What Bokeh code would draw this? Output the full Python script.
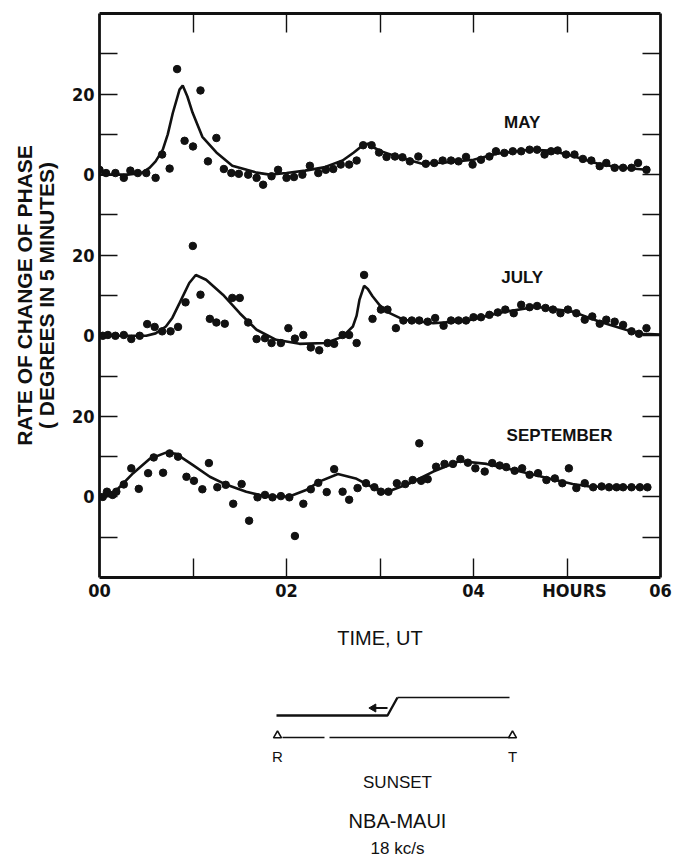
from bokeh.plotting import figure
from bokeh.models import Range1d, FixedTicker, LinearAxis
from bokeh.layouts import column
from bokeh.core.properties import value
from bokeh.embed import file_html
from bokeh.resources import INLINE

# ---------------- data (hours UT, degrees per 5 minutes) ----------------
may_dot_h = [0.0, 0.07, 0.17, 0.26, 0.33, 0.41, 0.5, 0.6, 0.67, 0.75, 0.83, 0.91, 1.0, 1.08,
             1.16, 1.25, 1.33, 1.41, 1.49, 1.59, 1.68, 1.75, 1.84, 1.91, 2.0, 2.08, 2.17, 2.25,
             2.34, 2.42, 2.50, 2.58, 2.67, 2.75, 2.82, 2.91, 2.99, 3.07, 3.16, 3.24, 3.32, 3.41,
             3.49, 3.58, 3.67, 3.76, 3.84, 3.92, 3.99, 4.08, 4.17, 4.24, 4.33, 4.42, 4.51, 4.60,
             4.68, 4.76, 4.83, 4.90, 4.99, 5.08, 5.17, 5.26, 5.35, 5.42, 5.51, 5.60, 5.69, 5.76, 5.85]
may_dot_v = [1.2, 0.4, 0.4, -0.8, 1.0, 0.4, 0.4, -0.8, 5.0, 1.5, 26.2, 8.4, 7.0, 20.9,
             3.3, 9.1, 1.4, 0.4, 0.2, 0.0, -0.8, -2.5, -0.4, 1.2, -0.8, -0.6, 0.0, 2.2,
             0.4, 1.2, 1.4, 2.5, 2.5, 3.5, 7.3, 7.3, 5.5, 4.4, 4.5, 4.3, 3.3, 4.5,
             2.7, 2.9, 3.5, 3.5, 3.3, 4.4, 2.5, 3.7, 4.5, 5.8, 5.4, 5.8, 5.8, 6.2,
             6.2, 5.0, 5.8, 6.0, 5.0, 5.0, 3.9, 3.5, 2.1, 2.9, 1.7, 1.7, 1.7, 2.9, 1.2]
may_fit_h = [0.0, 0.3, 0.45, 0.535, 0.6, 0.677, 0.73, 0.784, 0.856, 0.89, 0.94, 0.995, 1.1,
             1.25, 1.42, 1.68, 1.82, 2.0, 2.2, 2.4, 2.6, 2.72, 2.81, 2.87, 2.93, 3.0, 3.2,
             3.45, 3.7, 4.0, 4.25, 4.6, 4.85, 5.06, 5.35, 5.6, 5.85]
may_fit_v = [0.0, 0.0, 0.4, 1.7, 3.3, 6.2, 10.0, 15.3, 21.1, 22.1, 19.4, 15.4, 9.4,
             5.5, 2.2, 0.5, 0.0, 0.4, 1.0, 1.8, 3.5, 5.5, 7.2, 7.7, 6.8, 5.9, 4.3,
             2.7, 3.0, 3.7, 5.2, 6.2, 5.9, 4.6, 2.6, 1.7, 1.2]

jul_dot_h = [0.035, 0.09, 0.17, 0.26, 0.34, 0.43, 0.51, 0.59, 0.67, 0.76, 0.84, 0.92, 0.998,
             1.08, 1.18, 1.25, 1.34, 1.42, 1.50, 1.59, 1.68, 1.77, 1.84, 1.94, 2.02, 2.09, 2.18,
             2.26, 2.35, 2.44, 2.51, 2.60, 2.67, 2.75, 2.83, 2.92, 3.01, 3.08, 3.17, 3.25, 3.34,
             3.42, 3.51, 3.59, 3.68, 3.76, 3.84, 3.92, 4.0, 4.08, 4.17, 4.26, 4.34, 4.43, 4.51,
             4.60, 4.68, 4.77, 4.85, 4.93, 5.01, 5.10, 5.19, 5.27, 5.35, 5.42, 5.51, 5.60, 5.69,
             5.77, 5.85]
jul_dot_v = [0.0, 0.2, 0.0, 0.2, -0.8, 0.0, 2.9, 2.2, 1.1, 1.1, 2.2, 8.3, 22.3,
             10.2, 4.2, 3.3, 3.0, 9.4, 9.4, 3.3, -0.8, -0.6, -1.8, -1.8, 1.9, -0.7, 0.2,
             -2.9, -3.6, -1.8, -2.0, 0.2, 0.2, -1.8, 15.1, 4.2, 6.5, 6.5, 1.9, 3.8, 3.8,
             3.8, 3.5, 4.4, 2.5, 3.8, 3.8, 3.8, 4.6, 4.6, 5.2, 5.8, 6.5, 5.6, 7.7,
             7.1, 7.4, 6.9, 6.5, 5.6, 6.5, 5.6, 4.0, 4.8, 3.0, 4.0, 3.5, 2.7, 1.1,
             0.5, 1.9]
jul_fit_h = [0.0, 0.5, 0.6, 0.71, 0.78, 0.856, 0.96, 1.03, 1.14, 1.32, 1.5, 1.68, 1.89, 2.14,
             2.42, 2.6, 2.71, 2.75, 2.78, 2.83, 2.87, 2.92, 3.0, 3.07, 3.25, 3.57, 3.92, 4.3,
             4.67, 5.06, 5.35, 5.63, 5.81, 6.0]
jul_fit_v = [0.0, 0.0, 0.6, 2.3, 4.5, 8.1, 13.1, 15.1, 13.9, 10.2, 5.6, 1.5, -1.0, -2.0,
             -1.8, -0.2, 2.3, 5.0, 8.9, 12.4, 11.6, 9.8, 7.5, 6.0, 4.0, 3.1, 3.7, 5.8,
             7.2, 6.0, 3.5, 1.5, 0.5, 0.3]

sep_dot_h = [0.035, 0.08, 0.14, 0.18, 0.26, 0.34, 0.42, 0.52, 0.58, 0.68, 0.75, 0.84, 0.93,
             1.01, 1.10, 1.17, 1.26, 1.35, 1.43, 1.52, 1.60, 1.69, 1.77, 1.85, 1.94, 2.03, 2.09,
             2.18, 2.26, 2.34, 2.43, 2.51, 2.60, 2.67, 2.76, 2.85, 2.94, 3.01, 3.09, 3.18, 3.27,
             3.35, 3.42, 3.44, 3.51, 3.60, 3.69, 3.78, 3.86, 3.94, 4.02, 4.12, 4.20, 4.28, 4.35,
             4.44, 4.52, 4.60, 4.69, 4.78, 4.87, 4.95, 5.02, 5.10, 5.19, 5.28, 5.37, 5.45, 5.53,
             5.60, 5.69, 5.78, 5.86]
sep_dot_v = [0.0, 1.3, 0.5, 1.3, 3.1, 7.1, 2.0, 5.9, 9.8, 6.0, 10.8, 10.0, 5.0,
             4.0, 1.9, 8.4, 2.4, 3.0, -1.7, 3.2, -5.9, -0.1, 0.5, -0.1, 0.2, -0.1, -9.7,
             -1.7, 1.9, 3.5, 1.2, 6.9, 1.3, -0.7, 2.2, 3.4, 2.4, 1.3, 1.3, 3.4, 3.2,
             4.2, 13.3, 4.0, 4.4, 7.5, 8.2, 8.2, 9.4, 8.5, 7.1, 6.3, 8.4, 7.8, 7.4,
             6.5, 7.1, 5.5, 5.9, 4.2, 4.6, 3.4, 7.1, 2.2, 3.4, 2.4, 2.6, 2.4, 2.4,
             2.4, 2.4, 2.4, 2.4]
sep_fit_h = [0.0, 0.12, 0.18, 0.36, 0.535, 0.71, 0.82, 1.0, 1.18, 1.36, 1.57, 1.78, 2.03,
             2.21, 2.35, 2.55, 2.74, 2.92, 3.06, 3.32, 3.57, 3.85, 4.14, 4.5, 4.81, 5.06,
             5.24, 5.6, 5.88]
sep_fit_v = [0.0, 0.3, 1.6, 5.9, 9.4, 11.0, 10.7, 7.9, 5.0, 3.0, 1.3, 0.1, 0.1,
             1.7, 3.8, 5.7, 4.6, 2.4, 1.1, 3.4, 6.3, 8.9, 8.2, 6.3, 4.6, 3.2,
             2.6, 2.4, 2.4]

months = ["MAY", "JULY", "SEPTEMBER"]
month_offsets = [80, 40, 0]          # vertical stacking of the three curves
month_label_h = [4.52, 4.52, 4.92]
month_label_v = [12.9, 14.4, 15.2]

# x axis: tick marks every hour, labels at even hours plus the unit word
x_tick_marks = [1, 2, 3, 4, 5]
x_label_pos = [0, 2, 4, 5.08, 6]
x_label_text = {0: "00", 2: "02", 4: "04", 5.08: "HOURS", 6: "06"}
# y axis (stacked): labels every 20, tick marks every 10
y_label_pos = [0, 20, 40, 60, 80, 100]
y_label_text = {0: "0", 20: "20", 40: "0", 60: "20", 80: "0", 100: "20"}
y_tick_marks = [-10, 10, 30, 50, 70, 90, 110]
y_all_marks = [-10, 0, 10, 20, 30, 40, 50, 60, 70, 80, 90, 100, 110]

# schematic of the path (page-pixel coordinates of the sketch)
path_x = [277, 388, 398, 510]
path_y = [715, 715, 697, 697]
arrow_x = [388, 374]
arrow_y = [707.5, 707.5]
base_seg_x0 = [283, 330]
base_seg_x1 = [325, 510]
base_y = 737
station_x = [278, 513]
station_labels = ["R", "T"]
sketch_text = ["SUNSET", "NBA-MAUI", "18 kc/s"]
sketch_text_y = [782, 820, 848]

INK = "#111111"
COND = "DejaVu Sans Condensed"
SANS = "Liberation Sans"

# ---------------- main plot ----------------
p = figure(width=682, height=660, x_range=Range1d(0, 6), y_range=Range1d(-20, 120),
           output_backend="svg", toolbar_location=None,
           min_border_left=99, min_border_right=22, min_border_top=13, min_border_bottom=83)
p.background_fill_color = "white"
p.border_fill_color = "white"
p.outline_line_color = None
p.xgrid.visible = False
p.ygrid.visible = False

series = [(may_dot_h, may_dot_v, may_fit_h, may_fit_v),
          (jul_dot_h, jul_dot_v, jul_fit_h, jul_fit_v),
          (sep_dot_h, sep_dot_v, sep_fit_h, sep_fit_v)]
for (dh, dv, fh, fv), off in zip(series, month_offsets):
    p.line(fh, [v + off for v in fv], line_color=INK, line_width=2.6)
    p.scatter(dh, [v + off for v in dv], size=7.5, marker="circle",
              fill_color=INK, line_color=INK)

p.text(x=month_label_h, y=[v + o for v, o in zip(month_label_v, month_offsets)], text=months,
       text_font=value(SANS), text_font_size="17px", text_font_style="bold",
       text_align="center", text_baseline="middle", text_color=INK)

def style_axis(ax, tick_len, major_len):
    ax.axis_line_color = INK
    ax.axis_line_width = 2.8
    ax.major_tick_line_color = INK
    ax.major_tick_line_width = 1.4
    ax.major_tick_in = major_len
    ax.major_tick_out = 0
    ax.minor_tick_line_color = INK
    ax.minor_tick_line_width = 1.4
    ax.minor_tick_in = tick_len
    ax.minor_tick_out = 0

xa = p.xaxis[0]
xa.ticker = FixedTicker(ticks=x_label_pos, minor_ticks=x_tick_marks)
xa.major_label_overrides = x_label_text
style_axis(xa, 19, 0)
xa.major_tick_line_color = None
xa.major_label_text_font = COND
xa.major_label_text_font_size = "18px"
xa.major_label_text_font_style = "bold"
xa.major_label_text_color = INK
xa.major_label_standoff = 2
xa.axis_label = "TIME, UT"
xa.axis_label_text_font = SANS
xa.axis_label_text_font_size = "20px"
xa.axis_label_text_font_style = "normal"
xa.axis_label_text_color = INK
xa.axis_label_standoff = 23

ya = p.yaxis[0]
ya.ticker = FixedTicker(ticks=y_label_pos, minor_ticks=y_tick_marks)
ya.major_label_overrides = y_label_text
style_axis(ya, 18, 18)
ya.major_label_text_font = COND
ya.major_label_text_font_size = "18px"
ya.major_label_text_font_style = "bold"
ya.major_label_text_color = INK
ya.major_label_standoff = 5
ya.axis_label = "RATE OF CHANGE OF PHASE\n( DEGREES IN 5 MINUTES)"
ya.axis_label_text_font = SANS
ya.axis_label_text_font_size = "21px"
ya.axis_label_text_font_style = "bold"
ya.axis_label_text_color = INK
ya.axis_label_text_line_height = 0.95
ya.axis_label_standoff = 11

ra = LinearAxis(ticker=FixedTicker(ticks=[], minor_ticks=y_all_marks))
style_axis(ra, 18, 18)
p.add_layout(ra, "right")
ta = LinearAxis(ticker=FixedTicker(ticks=[], minor_ticks=x_tick_marks))
style_axis(ta, 19, 19)
p.add_layout(ta, "above")

# ---------------- sketch below ----------------
q = figure(width=682, height=198, x_range=Range1d(100, 661), y_range=Range1d(858, 660),
           output_backend="svg", toolbar_location=None,
           min_border_left=99, min_border_right=22, min_border_top=0, min_border_bottom=0)
q.axis.visible = False
q.grid.visible = False
q.outline_line_color = None
q.background_fill_color = "white"
q.border_fill_color = "white"

q.line(path_x[:3], path_y[:3], line_color=INK, line_width=2.4)
q.line(path_x[2:], path_y[2:], line_color=INK, line_width=1.6)
q.line(arrow_x, arrow_y, line_color=INK, line_width=2.2)
q.scatter([arrow_x[1]], [arrow_y[1]], marker="triangle", angle=1.5708, size=8,
          fill_color=INK, line_color=INK)
q.segment(x0=base_seg_x0, y0=[base_y] * 2, x1=base_seg_x1, y1=[base_y] * 2,
          line_color=INK, line_width=1.6)
q.scatter(station_x, [base_y - 2] * 2, marker="triangle", size=8, fill_color="white",
          line_color=INK, line_width=1.6)
q.text(x=station_x, y=[756] * 2, text=station_labels, text_font=value(SANS),
       text_font_size="15px", text_align="center", text_baseline="middle", text_color=INK)
q.text(x=[398] * 3, y=sketch_text_y, text=sketch_text,
       text_font=value(SANS), text_font_size=["17px", "20px", "17px"],
       text_align="center", text_baseline="middle", text_color=INK)

layout = column(p, q)
open("out.html", "w").write(file_html(layout, INLINE))
